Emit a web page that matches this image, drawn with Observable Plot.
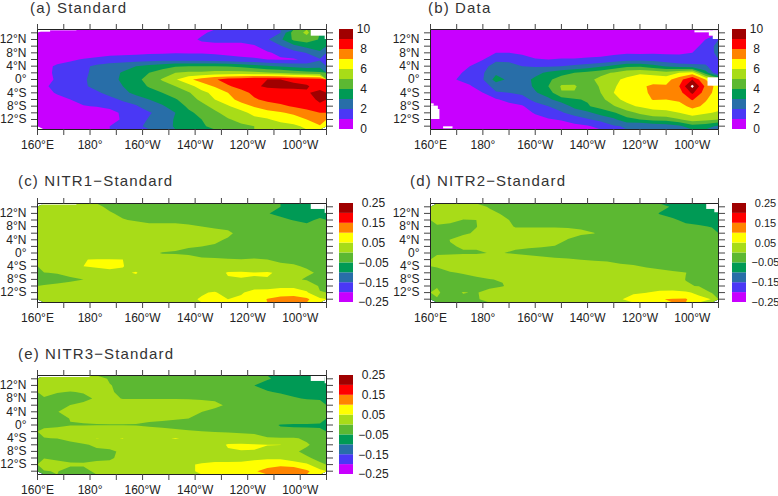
<!DOCTYPE html>
<html><head><meta charset="utf-8">
<script src="https://cdn.jsdelivr.net/npm/d3@7"></script>
<script src="https://cdn.jsdelivr.net/npm/@observablehq/plot@0.6"></script>
<style>
html,body{margin:0;padding:0;background:#fff;overflow:hidden}
#c{position:relative;width:778px;height:496px;overflow:hidden}
#c svg,#c .t{position:absolute}
.t{font:15px "Liberation Sans",sans-serif;letter-spacing:1.15px;color:#333;white-space:pre;line-height:16px}
</style></head><body><div id="c"></div>
<script>
// 2-degree latitude rows, north to south; 5-degree longitude columns
const standard = [
[.2,.2,.2,.2,.2,.2,.2,.2,.3,.3,.4,.5,.8,1.3,1.5,1.4,1.3,1.6,2,4.5,5.2,4],
[.2,.2,.2,.2,.2,.2,.2,.3,.4,.4,.5,.6,1.2,1.4,1.4,1.5,1.5,1.9,2.8,4.2,4.6,3.9],
[.1,.2,.2,.2,.2,.3,.3,.3,.4,.4,.4,.4,.5,.6,.6,.5,.9,1.4,1.9,2.7,3.3,3.5],
[.1,.1,.2,.3,.4,.6,.7,.8,.9,.9,.95,.95,.95,.9,.8,.7,.7,.9,1.2,1.6,2.05,2.8],
[.3,.5,.8,1.1,1.3,1.5,1.5,1.5,1.5,1.6,1.6,1.5,1.5,1.4,1.3,1.2,1.1,1,.9,.9,1.2,1.9],
[.6,1.2,1.5,1.8,2.2,2.4,2.6,3,3.3,3.6,3.9,4,4,4,3.9,3.7,3.4,3.1,2.9,2.7,2.5,2.6],
[.7,1.2,1.6,1.8,2.3,2.6,3.1,3.6,4,4.5,5,5.2,5.2,5.4,5.4,5.4,5.3,5.1,4.9,4.6,4.4,4.2],
[.5,1.2,1.5,1.9,2.3,2.6,3.2,3.7,4.4,5.1,5.9,6.8,7.4,7.9,8.4,8.6,8.9,9,9,8.8,8.6,8.4],
[.9,1.2,1.5,1.9,2.2,2.5,3,3.5,4.1,4.6,5,5.6,6.5,7.1,7.9,8.3,8.8,9.2,9.2,9.2,9.1,8.6],
[.7,1.1,1.4,1.6,1.9,2.2,2.7,3.3,3.6,4,4.5,4.9,5.7,6.3,7,7.7,8.2,8.4,8.6,8.7,8.9,9.3],
[.4,.7,1,1.3,1.5,1.8,2.1,2.5,3,3.4,3.9,4.6,5.2,6,6.6,7.4,7.9,8.2,8.4,8.6,8.8,9.1],
[.2,.3,.8,.95,1.05,1.15,1.7,1.9,2.5,2.9,3.4,4.2,4.7,5.3,5.9,6.5,7.1,7.6,7.8,8.1,8.4,8.9],
[.1,.1,.2,.3,.5,.8,1.1,1.4,1.9,2.4,3,3.8,4.3,4.8,5.4,5.7,6.3,6.6,6.9,7.2,7.6,8],
[.1,.1,.1,.2,.3,.7,1.1,1.5,2.1,2.5,3.1,3.6,4,4.4,4.9,5.3,5.7,5.9,6.3,6.5,7,7.7],
[.1,.1,.1,.2,.4,1,1.4,1.8,2.2,2.6,3.1,3.5,3.9,4.2,4.5,4.8,5,5.3,5.6,5.8,6.2,6.9]
].flat();
const observed = [
[.3,.3,.3,.3,.3,.3,.3,.3,.3,.3,.3,.3,.3,.3,.3,.3,.3,.3,.3,.3,.5,.8,.9],
[.3,.3,.3,.3,.3,.3,.3,.3,.3,.3,.3,.3,.3,.3,.3,.3,.3,.3,.3,.3,.6,1,2],
[.3,.3,.3,.3,.3,.3,.3,.3,.3,.3,.3,.3,.3,.3,.3,.3,.3,.3,.3,.4,.7,1.3,2.4],
[.1,.1,.1,.2,.5,1,1,.85,.75,.7,.7,.7,.75,.8,.85,.9,.85,.9,.9,.9,1,1.6,2.2],
[.1,.1,.2,.5,.95,1.8,1.8,1.4,1.05,1,1.05,1.05,1.1,1.15,1.3,1.6,1.7,1.55,1.4,1.3,1.4,1.7,2],
[.1,.2,.4,1,1.7,2.4,2.3,2,1.9,1.9,2,2.2,2.4,2.8,3.3,3.8,3.8,3.4,2.9,2.5,2.3,2.1,1.5],
[.1,.2,.8,1.3,1.9,2.8,2.8,2.5,2.7,3.2,3.6,4,4.3,4.7,5.1,5.6,5.9,5.7,5.4,6,6.4,3.5,1],
[.1,.2,1.02,1.4,1.95,3.4,2.8,2.6,3.2,3.8,4.5,4.6,4.7,5.3,5.8,6.2,6.4,6.5,6.6,7.6,9,7,5],
[.1,.1,.5,.9,1.5,2.4,2.2,2.4,3.2,4,5.1,5.1,4.5,5.1,5.9,6.4,6.8,7.2,7.1,8,10.3,7.8,6.5],
[.1,.1,.2,.7,.99,1.9,2,2.2,2.9,3.5,4.95,4.95,4.3,5,6,6.3,6.7,7.2,7,7.6,9.2,7.5,6.5],
[0,0,.1,.3,.6,.9,1.3,1.6,2.3,2.8,3.5,3.9,4.1,4.6,5.8,6.2,6.5,7.05,7,7.2,8.1,7.1,6.4],
[0,0,.05,.1,.3,.5,.7,.9,1.6,2,2.4,3.3,3.9,4.4,4.9,5.8,6.1,6.3,6.3,6.6,7.3,6.8,6.3],
[0,0,0,.05,.1,.2,.4,.6,1.1,1.6,1.9,2.4,2.8,3.4,3.9,4.6,5.2,5.7,5.8,6,6.4,6.1,5.9],
[0,0,0,0,0,.1,.2,.4,.6,.9,1.1,1.5,1.9,2.3,2.8,3.7,4,4.3,4.4,4.9,5.5,5.3,5],
[0,0,0,0,0,0,.1,.1,.2,.4,.5,.7,.9,1.3,1.9,2.1,2,2.2,2.4,2.8,3.6,3.4,2.8]
].flat();
// differences, in hundredths
const nitr1 = [
[2,2,2,2,1,-1,-2,-2,-2,-2,-2,-2,-2,-2,-2,-2,-3,-4,-5,-7,-7,-7],
[2,2,2,2,2,.5,-1,-2,-2,-2,-2,-2,-2,-2,-2,-3,-3,-4.8,-6,-7,-7,-6],
[2,2,2,2,2,2,.3,-.5,-1,-1,-1,-1,-1.5,-2,-2,-2,-2,-3,-4,-5.2,-5.5,-4.6],
[2,2,2,2,2,2,2,2,1,1,1,.5,0,-.4,-.7,-1.5,-2,-2,-2,-3,-4.5,-3],
[2,2,2,2,2,2,2,2,2,2,2,2,2,1,.6,-1,-2,-2,-2,-2,-2,-2],
[2,2,2,2,2,2,2,2,2,2,2,2,1.5,.5,-.3,-1.5,-2,-2,-2,-2,-2,-2],
[2,2,2,2,2,2,2,2,1.5,.8,.5,.2,0,-.3,-1,-1.5,-2,-2,-2,-2,-2,-2],
[2,2,2,2,2,2,2,1.5,.4,-.1,-.2,-.6,-1,-1.3,-1.5,-1.5,-1.5,-1.5,-1.8,-2,-2,-2],
[2,2,3,4.9,5.2,5.2,5,4,2,.9,1,1.3,.5,.4,.2,.1,.3,0,-.6,-1,-1.5,-2],
[2,2,3,5,5.5,5.4,5.1,4,3,3,3,3,3,3,3.5,3.5,2,1.5,.7,.4,-.4,-1],
[-.1,.2,1.5,2.5,3.5,4.5,4.6,5.2,3.5,3,3,3,3,4,5.2,5.3,5.2,5.5,4.2,3,.6,-.5],
[-1.5,-1.4,-.8,0,1.5,2,3,4,3,3,3,3,3.5,4,4.8,4.9,4.8,4.7,3.5,.8,-.5,-.8],
[.3,.8,1.5,2,2,2,2,2,2,2,2,2.5,3,3.8,3,3,3.8,3.5,3.5,3.5,3,-.5],
[2,2,2,2,2,2,2,2,2,2,3,3.5,4.8,5.2,4,4.7,6,6.5,8.5,8.5,5.5,.2],
[2,2,2,2,2,2,2,2,2,2,2.5,4.6,5.2,5.3,5,5.5,7.5,10.2,11,11.5,11,6]
].flat();
const nitr2 = [
[2,2,2,2,-.5,-2,-2,-2,-2,-2,-2,-2,-2,-2,-2,-2,-2.5,-3.5,-5.5,-7,-7,-7],
[2,2,2,2,1.5,-.5,-2,-2,-2,-2,-2,-2,-2,-2,-2,-2,-3,-5.2,-6,-7,-7,-6.5],
[2,1.5,-.2,0,1.5,1,-1,-2,-2,-2,-2,-2,-2,-2,-2,-2,-2.5,-3.5,-4.6,-5.6,-6.2,-6],
[-.8,-1.5,-1,-.1,1.5,1,-.2,-.2,-.2,-.2,-.2,-.3,-.8,-1.5,-2,-2,-2,-2.5,-3,-4.4,-4.6,-5.2],
[-2,-1.5,-.6,.5,1.5,1.5,1.5,1.5,1.5,1.5,.8,.4,.05,-1,-2,-2,-2,-2,-2,-2.5,-3,-3.5],
[-2,.1,1.5,2,2,2,2,2,2,1,-.1,-1,-1.5,-2,-2,-2,-2,-2,-2,-2,-2,-2.5],
[-1.5,-.2,.2,.2,.3,.3,.3,.2,.1,-.1,-1,-1.5,-2,-2,-2,-2,-2,-2,-2,-2,-2,-2],
[-.3,-.3,-.2,-.2,.05,.05,-.3,-.5,-.8,-1,-1,-1.3,-1.5,-1.8,-2,-2,-2,-2,-2,-2,-2,-2],
[.7,1,1.2,1.3,1.4,1.5,1.5,1,.7,.4,.2,-.05,-.2,-.3,-.7,-1,-1.5,-2,-2,-2,-2,-2],
[.2,1,1.5,1.5,1.5,1.5,1.5,1.5,1.5,1.5,1.5,1.5,1,.8,.4,.2,-.2,-.6,-1,-1.3,-2,-2],
[-.8,-.2,.2,.8,1.5,1.5,2,2,2,2,2,2,2,2,1.5,1.2,.9,.7,.4,.05,-1,-2],
[-2,-1.5,-1,-.5,-.1,.2,2,2,2,2,2,2,2,2,2,2,2,2,2,-.1,-1,-2],
[-.2,-2,-2,-2,-1,-.2,1.5,2,2,2,2,2,2,2,2,2,2,2.2,2,.4,-.2,-1.5],
[.5,-1.5,.2,-.3,1.5,2,2,2,2,2,2,2,2,2,2.5,4.5,4.9,6,6.5,6,3.5,-.4],
[-.2,-2,-1,-.5,1.5,2,2,2,2,2,2,2,2,2.5,4.7,6.5,7.5,9.8,10.3,10.4,7,4.8]
].flat();
const nitr3 = [
[2,2,2,2,2,-.5,-2,-2,-2,-2,-2,-2,-2,-2,-2,-2.5,-3.5,-4.8,-5.5,-7,-7,-7],
[2,2,2,2,2,.2,-1,-2,-2,-2,-2,-2,-2,-2,-2,-3.5,-5,-5.8,-7,-7,-7,-6.5],
[1.2,.3,-.2,.3,2,.5,-1,-2,-2,-2,-2,-2,-2,-2,-2,-2,-3,-4.8,-5.3,-6,-7,-7],
[-.4,-1.5,-2,-1,.5,.5,-.1,-.1,-.1,-.1,-.1,-.2,-.3,-.5,-1,-2,-3,-3.5,-4,-4.6,-5.3,-5.5],
[-2,-2,.1,1,2,2,2,2,2,2,2,2,1,.8,-.5,-2,-2,-2,-2,-2,-2,-3],
[-2,-.1,1,2,2,2,2,2,2,2,2,.8,.05,-1,-2,-2,-2,-2,-2,-2,-2,-4.8],
[-2,-1,.1,.3,.6,.8,.8,.5,.5,.4,.2,0,-1,-2,-2,-2,-2,-2,-2,-2,-2,-2.5],
[-.7,-.4,-.1,-.1,-.1,-.1,-.1,-.1,-.4,-.6,-.8,-1.2,-1.5,-2,-2,-2,-2,-3.5,-5.3,-5.5,-5.6,-5.8],
[.7,.8,1,1.5,2.5,2.5,2,1.5,1.2,.9,.5,.3,.1,-.2,-.5,-.8,-1.2,-3.8,-4,-4,-4,-4],
[-.1,.1,1,4.2,5.05,4.85,5.05,4,4,4.6,5.2,4.5,3,3,3.5,2.5,2,.6,.3,.3,-.5,-2],
[-2,-2,-1,-.7,1,.6,4,3.5,3,3,3,3,3,4,5.2,5.5,5.3,5.1,5.1,1.5,.3,-1],
[-2,-2,-2,-2,-1,-.3,.3,3,3,3,3,3,3,3,4.8,4.9,4.9,4,3,.4,-.6,-1.5],
[-.1,-.6,-.7,-.8,-.8,-.5,1,2,2,2,2,2.5,3,3.8,4,4,4,4,4,.8,.3,-.6],
[1,1,.3,.3,1,1,2,2.5,2.5,2.5,3,4.5,5.5,5.8,5.7,5.8,7,9,9.5,9.2,6,.4],
[-.1,.1,-.8,-.7,.5,1.5,2,2.5,2.5,2.5,3,4.9,5.1,5.5,6,7,9.7,11,11.5,11.5,10.8,7]
].flat();

// areas with no data: [lon1, lon2, lat1, lat2]
const missingA = [[264.2,270,13,15],[269.5,270,12,15],[160,165,14.2,15],[165,175,14.6,15]];
const missingB = [[261,267,14,14.6],[266.5,270,13,14.6],[268,270,12,14.6],[266,270,-2,.5],[160,161.4,-8,-7.3],[160,163,-9,-8],[160,163.6,-12,-9],[165,168.6,-14.8,-14.2]];
const missingC = [[264.2,269.5,13.2,15],[269.5,270,12,15],[160,175,14.5,15]];
const missingD = [[265.5,270,13.2,15],[268.6,270,12.2,15]];
const missingE = [[264.2,269.5,13.2,15],[269.5,270,12.5,15],[160,180,14.4,15]];

const levelsAB = [0,1,2,3,4,5,6,7,8,9,10];
const labelsAB = [0,2,4,6,8,10];
const levelsDiff = [-25,-20,-15,-10,-5,0,5,10,15,20,25];
const labelsDiff = [-25,-15,-5,5,15,25];
const bandColors = ["#c800ff","#4a38f5","#286ea8","#009a55","#5cb832","#a8dc18","#ffff00","#ff8400","#ff0000","#a00000","#ffffff"];

const lonTicks = [160,170,180,190,200,210,220,230,240,250,260,270];
const lonLabels = new Map([[160,"160°E"],[180,"180°"],[200,"160°W"],[220,"140°W"],[240,"120°W"],[260,"100°W"]]);
const latTicks = [14,12,10,8,6,4,2,0,-2,-4,-6,-8,-10,-12,-14];
const latLabels = new Map([[12,"12°N"],[8,"8°N"],[4,"4°N"],[0,"0°"],[-4,"4°S"],[-8,"8°S"],[-12,"12°S"]]);

const font = {fontFamily:"'Liberation Sans',sans-serif",fontSize:"12px",color:"#222",background:"transparent"};
const root = document.getElementById("c");
function place(el,l,t){el.style.left=l+"px";el.style.top=t+"px";root.appendChild(el);}

function panel({left,top,ml,mt,mb,h,grid,cols,x1,x2,missing,levels,title,tx,ty,labels,lx,fs=12}){
  const color = {type:"ordinal",domain:levels,range:bandColors};
  const map = Plot.plot({
    width:389,height:h,marginLeft:ml,marginRight:389-ml-(ml==37?289:288),marginTop:mt,marginBottom:mb,style:font,
    x:{domain:[160,270]},y:{domain:[-15,15]},color,
    marks:[
      Plot.contour(grid,{width:cols,height:15,x1,x2,y1:15,y2:-15,thresholds:levels,value:Plot.identity,fill:"value",stroke:"none",clip:true}),
      Plot.rect(missing,{x1:d=>d[0],x2:d=>d[1],y1:d=>d[2],y2:d=>d[3],fill:"#fff"}),
      Plot.frame({stroke:"#222",strokeWidth:1}),
      Plot.axisX({anchor:"bottom",ticks:lonTicks,tickSize:6,tickPadding:5,tickFormat:d=>lonLabels.get(d)??"",label:null,stroke:"#444",fill:"#222"}),
      Plot.axisX({anchor:"top",ticks:lonTicks,tickSize:6,tickFormat:()=>"",label:null,stroke:"#444"}),
      Plot.axisY({anchor:"left",ticks:latTicks,tickSize:6,tickPadding:5,tickFormat:d=>latLabels.get(d)??"",label:null,stroke:"#444",fill:"#222"}),
      Plot.axisY({anchor:"right",ticks:latTicks,tickSize:6,tickFormat:()=>"",label:null,stroke:"#444"})
    ]
  });
  place(map,left,top);
  const bands = levels.slice(0,-1);
  const step = levels[1]-levels[0];
  const fmt = step===1 ? String : d=>(d<0?"−":"")+(Math.abs(d)/100).toFixed(2);
  const bar = Plot.plot({
    width:389,height:h,marginLeft:ml+302,marginRight:389-(ml+302+14),marginTop:mt,marginBottom:mb,style:font,
    x:{domain:[0,1],axis:null},y:{domain:[levels[0],levels[levels.length-1]],axis:null},color,
    marks:[
      Plot.rect(bands,{x1:0,x2:1,y1:d=>d,y2:d=>d+step,fill:d=>d}),
      Plot.text(labels,{x:1,y:d=>d,dx:lx,text:fmt,textAnchor:"middle",fontSize:fs,fill:"#222"})
    ]
  });
  place(bar,left,top);
  const t = document.createElement("div");
  t.className="t"; t.textContent=title;
  place(t,tx,ty);
}

panel({left:0,top:0,ml:37,mt:29,mb:36,h:165,grid:standard,cols:22,x1:160,x2:270,missing:missingA,levels:levelsAB,title:"(a) Standard",tx:30,ty:0,labels:labelsAB,lx:10});
panel({left:389,top:0,ml:41,mt:29,mb:36,h:165,grid:observed,cols:23,x1:157.5,x2:272.5,missing:missingB,levels:levelsAB,title:"(b) Data",tx:428,ty:0,labels:labelsAB,lx:10});
panel({left:0,top:165,ml:37,mt:38,mb:28,h:165,grid:nitr1,cols:22,x1:160,x2:270,missing:missingC,levels:levelsDiff,title:"(c) NITR1−Standard",tx:18,ty:173,labels:labelsDiff,lx:20});
panel({left:389,top:165,ml:41,mt:38,mb:28,h:165,grid:nitr2,cols:22,x1:160,x2:270,missing:missingD,levels:levelsDiff,title:"(d) NITR2−Standard",tx:410,ty:173,labels:labelsDiff,lx:19,fs:11});
panel({left:0,top:331,ml:37,mt:44,mb:22,h:165,grid:nitr3,cols:22,x1:160,x2:270,missing:missingE,levels:levelsDiff,title:"(e) NITR3−Standard",tx:18,ty:346,labels:labelsDiff,lx:20});
</script></body></html>
